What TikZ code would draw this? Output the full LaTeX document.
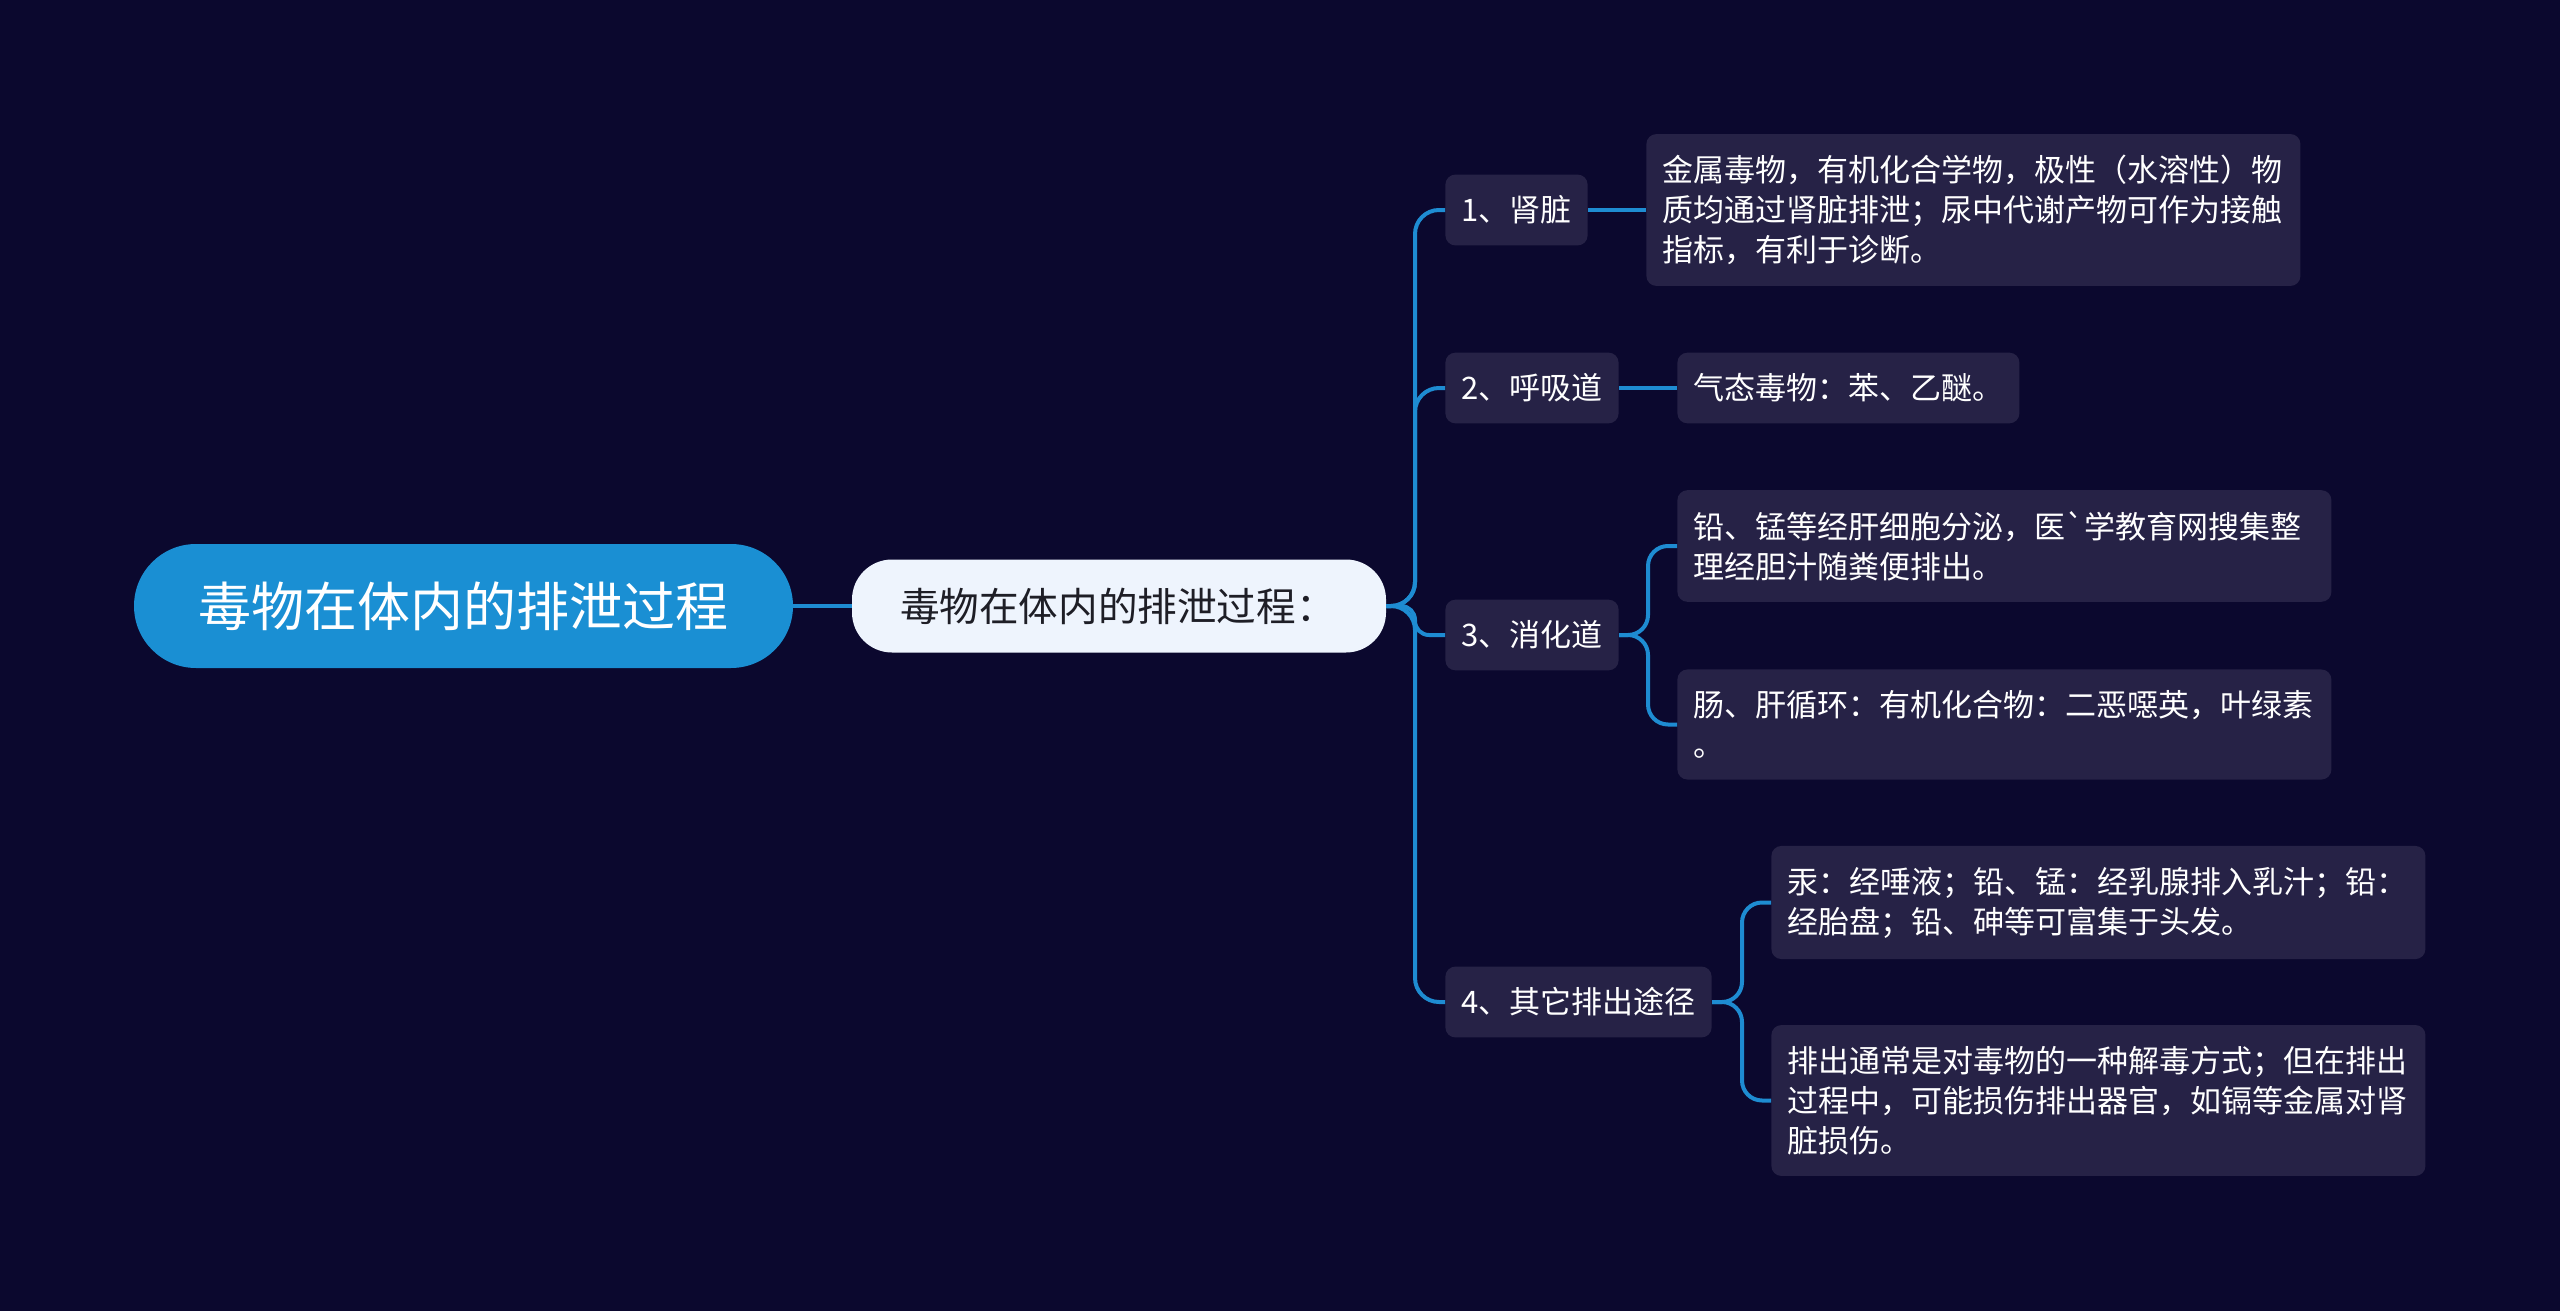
\documentclass[tikz,border=0pt]{standalone}
\usepackage{fontspec}
\usepackage{xcolor}
\usepackage{tikz}
\usetikzlibrary{positioning}
\newfontfamily\cjk{Noto Sans CJK SC}
\definecolor{bgnavy}{RGB}{11, 8, 46}
\definecolor{rootblue}{RGB}{26, 143, 211}
\definecolor{linkblue}{RGB}{30, 140, 210}
\definecolor{boxdark}{RGB}{38, 34, 70}
\definecolor{subwhite}{RGB}{238, 244, 253}
\definecolor{subtext}{RGB}{30, 30, 38}

\begin{document}
\begin{tikzpicture}[x=0.5pt, y=-0.5pt,
    link/.style={draw=linkblue, line width=2pt},
    rootbox/.style={fill=rootblue, rounded corners=31pt, minimum width=329.5pt, minimum height=62pt, text=white, font=\cjk\fontsize{26.5}{32}\selectfont},
    subbox/.style={fill=subwhite, rounded corners=20pt, text width=219pt, inner xsep=24pt, align=left, minimum height=46.5pt, text=subtext, font=\cjk\fontsize{19.8}{24}\selectfont},
    branch/.style={fill=boxdark, rounded corners=5pt, text=white, font=\cjk\fontsize{15.5}{20}\selectfont, inner xsep=8pt, inner ysep=10.5pt, anchor=west, align=left},
    leaf/.style={branch, text width=311pt, inner xsep=8pt}]

            % Background and page size
            \fill[bgnavy] (0,0) rectangle (2560,1311);
            \useasboundingbox (0,0) rectangle (2560,1311);

            % Root and summary
            \node[rootbox] (root) at (463.5,606) {毒物在体内的排泄过程};
            \node[subbox] (sub) at (1119,606) {毒物在体内的排泄过程：};

            % Routes
            \node[branch] (n1) at (1445,210) {1、肾脏};
            \node[branch] (n2) at (1445,388) {2、呼吸道};
            \node[branch] (n3) at (1445,635) {3、消化道};
            \node[branch] (n4) at (1445,1002) {4、其它排出途径};

            % Details
            \node[leaf] (l1) at (1646,210) {金属毒物，有机化合学物，极性（水溶性）物\\质均通过肾脏排泄；尿中代谢产物可作为接触\\指标，有利于诊断。};
            \node[branch] (l2) at (1677,388) {气态毒物：苯、乙醚。};
            \node[leaf] (l3a) at (1677,546) {铅、锰等经肝细胞分泌，医\char96 学教育网搜集整\\理经胆汁随粪便排出。};
            \node[leaf] (l3b) at (1677,724.5) {肠、肝循环：有机化合物：二恶噁英，叶绿素\\。};
            \node[leaf] (l4a) at (1771,902.5) {汞：经唾液；铅、锰：经乳腺排入乳汁；铅：\\经胎盘；铅、砷等可富集于头发。};
            \node[leaf] (l4b) at (1771,1100.5) {排出通常是对毒物的一种解毒方式；但在排出\\过程中，可能损伤排出器官，如镉等金属对肾\\脏损伤。};

            % Connectors
            \coordinate (hub) at (1415,606);
            \coordinate (hub3) at (1648,635);
            \coordinate (hub4) at (1742,1002);
            \draw[link] (root.east) -- (sub.west);
            \foreach \n in {n1, n2, n4} {
                \draw[link, rounded corners=12pt] (sub.east) -- (hub) |- (\n.west);
            }
            \draw[link, rounded corners=7pt] (sub.east) -- (hub) |- (n3.west);
            \draw[link] (n1.east) -- (l1.west);
            \draw[link] (n2.east) -- (l2.west);
            \foreach \l in {l3a, l3b} {
                \draw[link, rounded corners=10pt] (n3.east) -- (hub3) |- (\l.west);
            }
            \foreach \l in {l4a, l4b} {
                \draw[link, rounded corners=10pt] (n4.east) -- (hub4) |- (\l.west);
            }
        \end{tikzpicture}
\end{document}
